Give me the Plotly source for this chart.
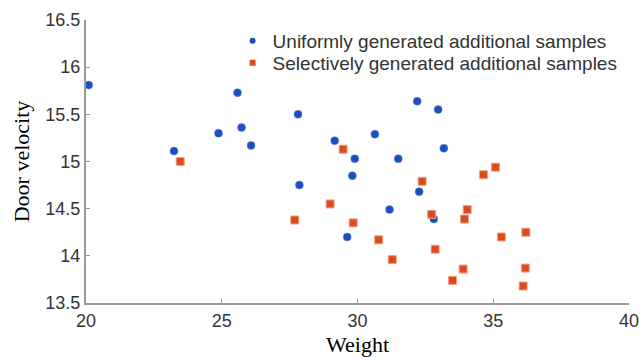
import plotly.graph_objects as go

# Data
uniform_weight = [20.1, 23.24, 24.88, 25.58, 25.73, 26.08, 27.81, 27.86, 29.16, 29.62,
                  29.81, 29.9, 30.64, 31.18, 31.5, 32.2, 32.27, 32.81, 32.97, 33.18]
uniform_velocity = [15.81, 15.11, 15.30, 15.73, 15.36, 15.17, 15.50, 14.75, 15.22, 14.20,
                    14.85, 15.03, 15.29, 14.49, 15.03, 15.64, 14.68, 14.39, 15.55, 15.14]

selective_weight = [23.47, 27.69, 28.99, 29.47, 29.84, 30.78, 31.28, 32.38, 32.73, 32.86,
                    33.5, 33.89, 33.94, 34.04, 34.64, 35.08, 35.3, 36.1, 36.18, 36.2]
selective_velocity = [15.00, 14.38, 14.55, 15.13, 14.35, 14.17, 13.96, 14.79, 14.44, 14.07,
                      13.74, 13.86, 14.39, 14.49, 14.86, 14.94, 14.20, 13.68, 13.87, 14.25]

x_ticks = [20, 25, 30, 35, 40]
y_ticks = [13.5, 14, 14.5, 15, 15.5, 16, 16.5]
y_tick_text = ["13.5", "14", "14.5", "15", "15.5", "16", "16.5"]

names = ["Uniformly generated additional samples", "Selectively generated additional samples"]

BLUE = "#1b4fbd"
RED = "#dc4a1e"

fig = go.Figure()
fig.add_trace(go.Scatter(x=uniform_weight, y=uniform_velocity, mode="markers",
                         marker=dict(symbol="circle", size=8, color=BLUE,
                                     line=dict(width=0.5, color="#5f86d6")),
                         showlegend=False))
fig.add_trace(go.Scatter(x=selective_weight, y=selective_velocity, mode="markers",
                         marker=dict(symbol="square", size=8, color=RED,
                                     line=dict(width=1, color="#f3a283")),
                         showlegend=False))
# legend entries (smaller symbols, as in the reference)
fig.add_trace(go.Scatter(x=[None], y=[None], mode="markers", name=names[0], legend="legend",
                         marker=dict(symbol="circle", size=6, color=BLUE)))
fig.add_trace(go.Scatter(x=[None], y=[None], mode="markers", name=names[1], legend="legend2",
                         marker=dict(symbol="square", size=6, color=RED)))

axis_common = dict(showgrid=False, zeroline=False, showline=True, linecolor="#9a9a9a",
                   linewidth=2, ticks="inside", ticklen=4, tickcolor="#9a9a9a", automargin=False,
                   tickfont=dict(family="Liberation Sans, Arial", size=18, color="#333333"))

fig.update_xaxes(range=[20, 40], tickvals=x_ticks, ticktext=[str(t) for t in x_ticks],
                 title=dict(text="Weight", font=dict(family="Liberation Serif, serif", size=22, color="#000000"),
                            standoff=17),
                 **axis_common)
fig.update_yaxes(range=[13.5, 16.5], tickvals=y_ticks, ticktext=y_tick_text,
                 title=dict(text="Door velocity", font=dict(family="Liberation Serif, serif", size=22, color="#000000"),
                            standoff=10),
                 **axis_common)

legend_font = dict(family="Liberation Sans, Arial", size=19, color="#333333")
fig.update_layout(
    width=642, height=357,
    margin=dict(l=86, r=13, t=20, b=54),
    paper_bgcolor="white", plot_bgcolor="white",
    legend=dict(x=0.27, y=(303 - 41) / 283, xanchor="left", yanchor="middle",
                font=legend_font, bgcolor="rgba(0,0,0,0)", itemwidth=30),
    legend2=dict(x=0.27, y=(303 - 63) / 283, xanchor="left", yanchor="middle",
                 font=legend_font, bgcolor="rgba(0,0,0,0)", itemwidth=30),
)

fig.write_html("out.html")
